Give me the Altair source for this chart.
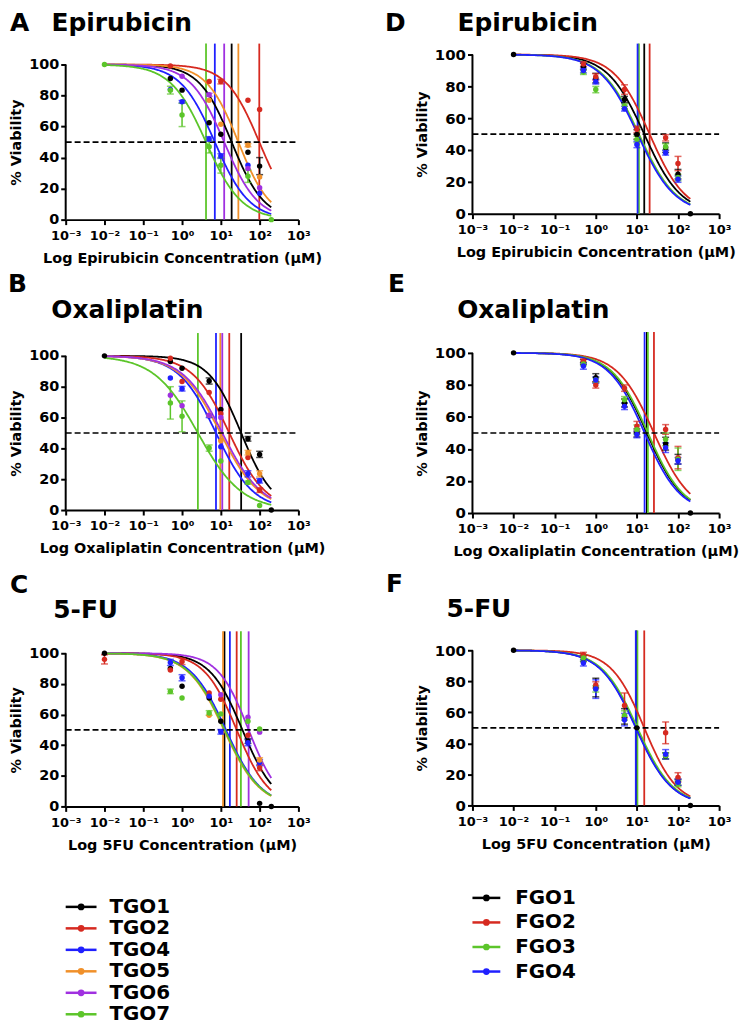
import altair as alt
import pandas as pd

FONT = "DejaVu Sans"

TGO_NAMES = ["TGO1", "TGO2", "TGO4", "TGO5", "TGO6", "TGO7"]
TGO_COLORS = ["#000000", "#d62a20", "#2020ff", "#f0902a", "#a030e0", "#5cc52a"]
FGO_NAMES = ["FGO1", "FGO2", "FGO3", "FGO4"]
FGO_COLORS = ["#000000", "#d62a20", "#5cc52a", "#2020ff"]

X_TICKS = [0.001, 0.01, 0.1, 1, 10, 100, 1000]
X_TICK_LABELS = ["10⁻³", "10⁻²", "10⁻¹", "10⁰", "10¹", "10²", "10³"]
Y_TICKS = [0, 20, 40, 60, 80, 100]
REF_LEVEL = 50

# ---- Panel A: Epirubicin (TGO) ----
A_IC50 = [19.0, 98.0, 7.0, 28.3, 12.2, 4.15]
A_FIT_IC50 = A_IC50
A_HILL = [1.04, 1.02, 0.98, 1.06, 1.0, 0.95]
A_POINTS = [
    ("TGO1", 0.5, 91, 0), ("TGO1", 1, 83.5, 0), ("TGO1", 5, 62.5, 0), ("TGO1", 10, 55, 0),
    ("TGO1", 50, 43.5, 0), ("TGO1", 100, 34.5, 5.5),
    ("TGO2", 0.5, 99, 0), ("TGO2", 5, 89, 0), ("TGO2", 10, 89, 1.5), ("TGO2", 50, 77, 0),
    ("TGO2", 100, 71, 0),
    ("TGO4", 0.5, 84, 0), ("TGO4", 1, 76, 0.8), ("TGO4", 5, 52, 1.5), ("TGO4", 10, 41, 1.5),
    ("TGO4", 50, 35, 0), ("TGO4", 100, 17, 0),
    ("TGO5", 5, 77, 0), ("TGO5", 10, 61.5, 0), ("TGO5", 50, 48, 1), ("TGO5", 100, 27.5, 0),
    ("TGO6", 1, 92.5, 0), ("TGO6", 5, 80.5, 1), ("TGO6", 50, 33, 0), ("TGO6", 100, 20.5, 0),
    ("TGO7", 0.01, 100, 0), ("TGO7", 0.5, 83.5, 2.5), ("TGO7", 1, 67.5, 7.5), ("TGO7", 5, 47, 4),
    ("TGO7", 10, 35, 5), ("TGO7", 50, 28, 4), ("TGO7", 200, 0, 0),
]

# ---- Panel B: Oxaliplatin (TGO) ----
B_IC50 = [33.4, 16.5, 7.5, 9.7, 10.9, 2.56]
B_FIT_IC50 = B_IC50
B_HILL = [1.04, 0.92, 0.9, 0.85, 0.85, 0.77]
B_POINTS = [
    ("TGO1", 0.01, 100, 0), ("TGO1", 0.5, 96.3, 0), ("TGO1", 1, 92, 0), ("TGO1", 5, 83.7, 2),
    ("TGO1", 10, 65.2, 0), ("TGO1", 50, 46.2, 1.5), ("TGO1", 100, 36.1, 2), ("TGO1", 200, 0, 0),
    ("TGO2", 0.5, 98.5, 0), ("TGO2", 1, 83.4, 0), ("TGO2", 5, 76.3, 0), ("TGO2", 10, 62.5, 0),
    ("TGO2", 50, 34, 0), ("TGO2", 100, 12.9, 1.5),
    ("TGO4", 0.5, 85.6, 0), ("TGO4", 1, 78.7, 1.5), ("TGO4", 5, 61, 1), ("TGO4", 10, 41, 0),
    ("TGO4", 50, 23.5, 2), ("TGO4", 100, 19, 1.5),
    ("TGO5", 5, 61.5, 0), ("TGO5", 10, 45, 0), ("TGO5", 50, 37.2, 1.5), ("TGO5", 100, 23.5, 2),
    ("TGO6", 0.5, 74.4, 0), ("TGO6", 1, 67.7, 0), ("TGO6", 5, 61.5, 0), ("TGO6", 10, 60, 0),
    ("TGO7", 0.5, 69.5, 10.5), ("TGO7", 1, 60.8, 10), ("TGO7", 5, 40.2, 2), ("TGO7", 10, 31.8, 0),
    ("TGO7", 50, 17.8, 1), ("TGO7", 100, 3, 0),
]

# ---- Panel C: 5-FU (TGO) ----
C_IC50 = [12.4, 25.6, 17.1, 11.4, 52.1, 32.9]
C_FIT_IC50 = [36.0, 25.6, 13.5, 12.0, 52.1, 12.5]
C_HILL = [1.03, 1.04, 0.95, 0.93, 1.1, 0.93]
C_POINTS = [
    ("TGO1", 0.01, 100, 0), ("TGO1", 0.5, 90, 0), ("TGO1", 1, 78.4, 0), ("TGO1", 5, 70.8, 0),
    ("TGO1", 10, 55.6, 0), ("TGO1", 50, 42.6, 1.5), ("TGO1", 100, 2, 0), ("TGO1", 200, 0, 0),
    ("TGO2", 0.01, 96, 3), ("TGO2", 0.5, 89, 0), ("TGO2", 1, 94.6, 2), ("TGO2", 5, 74, 0),
    ("TGO2", 10, 70, 0), ("TGO2", 50, 46.5, 0), ("TGO2", 100, 25.3, 2),
    ("TGO4", 0.5, 94, 2), ("TGO4", 1, 84, 2), ("TGO4", 5, 72, 0), ("TGO4", 10, 48.7, 1.5),
    ("TGO4", 50, 41.6, 2), ("TGO4", 100, 28.6, 2),
    ("TGO5", 5, 59.5, 0), ("TGO5", 100, 30.3, 1.5),
    ("TGO6", 10, 72.9, 0), ("TGO6", 50, 58.2, 0), ("TGO6", 100, 48.5, 0),
    ("TGO7", 0.5, 75.1, 1.5), ("TGO7", 1, 70.8, 0), ("TGO7", 5, 61, 1.5), ("TGO7", 10, 60.4, 0),
    ("TGO7", 50, 55.6, 0), ("TGO7", 100, 50.6, 0),
]

# ---- Panel D: Epirubicin (FGO) ----
D_IC50 = [15.1, 20.4, 11.2, 10.4]
D_FIT_IC50 = D_IC50
D_HILL = [0.97, 1.0, 0.96, 0.96]
D_POINTS = [
    ("FGO1", 0.01, 100, 0), ("FGO1", 0.5, 92.5, 2), ("FGO1", 1, 85.2, 3), ("FGO1", 5, 71.7, 2),
    ("FGO1", 10, 49.8, 3), ("FGO1", 50, 41.5, 3), ("FGO1", 100, 24.8, 3), ("FGO1", 200, 0, 0),
    ("FGO2", 0.5, 94, 1.5), ("FGO2", 1, 86, 2), ("FGO2", 5, 78, 3), ("FGO2", 10, 53, 2),
    ("FGO2", 50, 47.7, 2), ("FGO2", 100, 31.5, 4.5),
    ("FGO3", 0.5, 89, 1.5), ("FGO3", 1, 78, 2), ("FGO3", 5, 67.5, 1.5), ("FGO3", 10, 46.7, 2),
    ("FGO3", 50, 42, 2), ("FGO3", 100, 22.7, 2),
    ("FGO4", 0.5, 90, 1.5), ("FGO4", 1, 83, 1.5), ("FGO4", 5, 66, 1.5), ("FGO4", 10, 43.5, 2),
    ("FGO4", 50, 38.3, 1.5), ("FGO4", 100, 21.7, 2),
]

# ---- Panel E: Oxaliplatin (FGO) ----
E_IC50 = [17.5, 26.0, 18.5, 15.4]
E_FIT_IC50 = E_IC50
E_HILL = [1.0, 0.98, 1.0, 1.0]
E_POINTS = [
    ("FGO1", 0.01, 100, 0), ("FGO1", 0.5, 94.4, 1.5), ("FGO1", 1, 84.5, 2.5), ("FGO1", 5, 68.7, 2.5),
    ("FGO1", 10, 50, 2.5), ("FGO1", 50, 43.3, 4), ("FGO1", 100, 33.6, 3), ("FGO1", 200, 0, 0),
    ("FGO2", 0.5, 95, 1), ("FGO2", 1, 80, 2), ("FGO2", 5, 78, 2), ("FGO2", 10, 54.2, 3),
    ("FGO2", 50, 52.2, 3), ("FGO2", 100, 34.6, 7),
    ("FGO3", 0.5, 93, 1), ("FGO3", 1, 83, 1.5), ("FGO3", 5, 70.7, 2), ("FGO3", 10, 52, 3),
    ("FGO3", 50, 46, 4), ("FGO3", 100, 33.6, 7),
    ("FGO4", 0.5, 91.8, 2), ("FGO4", 1, 83, 2), ("FGO4", 5, 66.6, 2), ("FGO4", 10, 49, 2),
    ("FGO4", 50, 40.8, 3), ("FGO4", 100, 32.6, 2),
]

# ---- Panel F: 5-FU (FGO) ----
F_IC50 = [9.7, 15.1, 10.3, 9.4]
F_FIT_IC50 = F_IC50
F_HILL = [1.0, 1.08, 1.0, 1.0]
F_POINTS = [
    ("FGO1", 0.01, 100, 0), ("FGO1", 0.5, 94.7, 2), ("FGO1", 1, 76, 6), ("FGO1", 5, 57.4, 5),
    ("FGO1", 10, 50, 0), ("FGO1", 50, 31.9, 2), ("FGO1", 100, 14.9, 2), ("FGO1", 200, 0, 0),
    ("FGO2", 0.5, 97.2, 1.5), ("FGO2", 1, 77.7, 2), ("FGO2", 5, 64.5, 8), ("FGO2", 50, 46.8, 7),
    ("FGO2", 100, 18.1, 3),
    ("FGO3", 0.5, 95, 2), ("FGO3", 1, 75.1, 2), ("FGO3", 5, 58, 3), ("FGO3", 50, 32, 2),
    ("FGO3", 100, 14, 2),
    ("FGO4", 0.5, 91.9, 2), ("FGO4", 1, 75, 6), ("FGO4", 5, 55.3, 4), ("FGO4", 50, 33, 3),
    ("FGO4", 100, 15, 2),
]

NB = "\u00a0"
ZW = "\u200b"

# layout (sizes, offsets) kept apart from the data
LAYOUT = {
    "A": dict(w=234, h=177, ymax=113.5, vtop=113.5, title=["A" + NB * 2 + "\u2009Epirubicin"],
              tdx=-56, toff=-18, ty=99, ylab=14.5),
    "B": dict(w=234, h=202, ymax=130.3, vtop=114.8, title=["B", ZW + NB * 5 + "Oxaliplatin"],
              tdx=-58, toff=-38.5, ty=124.5, ylab=14.5),
    "C": dict(w=234, h=205, ymax=133.1, vtop=114.3, title=["C", ZW + NB * 5 + "5-FU"],
              tdx=-56, toff=-46, ty=128, ylab=14.5),
    "D": dict(w=248, h=171, ymax=106.9, vtop=106.9, title=["D" + NB * 6 + "Epirubicin"],
              tdx=-88, toff=-18, ty=91, ylab=15),
    "E": dict(w=248, h=205, ymax=127.3, vtop=113.0, title=["E", ZW + NB * 8 + "Oxaliplatin"],
              tdx=-85, toff=-38.5, ty=124.5, ylab=15),
    "F": dict(w=248, h=204, ymax=130.8, vtop=112.8, title=["F", ZW + NB * 7 + "5-FU"],
              tdx=-87, toff=-45, ty=126, ylab=15),
}

label_expr = "[" + ",".join("'" + s + "'" for s in X_TICK_LABELS) + "][round(log(datum.value)/LN10)+3]"


def make_panel(key, names, colors, ic50, fit_ic50, hill, points, xtitle):
    lay = LAYOUT[key]
    color = alt.Color("name:N", scale=alt.Scale(domain=names, range=colors), legend=None)
    xs = alt.Scale(type="log", domain=[1e-3, 1e3])
    ys = alt.Scale(domain=[0, lay["ymax"]], nice=False)
    xaxis = alt.Axis(values=X_TICKS, labelExpr=label_expr, grid=False, domainColor="black",
                     domainWidth=2, tickColor="black", tickWidth=2, tickSize=5,
                     labelFont=FONT, labelFontSize=13, labelFontWeight="bold", labelColor="black",
                     labelPadding=5, labelFlush=False, labelOverlap=False,
                     title=xtitle, titleFont=FONT, titleFontSize=14.5, titleFontWeight="bold",
                     titleColor="black", titlePadding=9)
    yaxis = alt.Axis(values=Y_TICKS, grid=False, domain=False, tickColor="black", tickWidth=2,
                     tickSize=5, labelFont=FONT, labelFontSize=lay["ylab"], labelFontWeight="bold",
                     labelColor="black", labelPadding=2, labelFlush=False,
                     title="% Viability", titleFont=FONT, titleFontSize=14.5,
                     titleFontWeight="bold", titleColor="black", titlePadding=5, titleY=lay["ty"])

    def X(f):
        return alt.X(f, type="quantitative", scale=xs, axis=xaxis)

    def Y(f):
        return alt.Y(f, type="quantitative", scale=ys, axis=yaxis)

    params = pd.DataFrame({"name": names, "ic": ic50, "fit": fit_ic50, "h": hill})
    params["vtop"] = lay["vtop"]
    params["zero"] = 0.0
    pts = pd.DataFrame(points, columns=["name", "dose", "v", "err"])
    errs = pts[pts["err"] > 0].copy()
    errs["lo"] = errs["v"] - errs["err"]
    errs["hi"] = errs["v"] + errs["err"]

    vlines = alt.Chart(params).mark_rule(strokeWidth=1.8).encode(
        x=X("ic"), y=Y("zero"), y2="vtop", color=color)
    curves = (alt.Chart(params)
              .transform_calculate(lx="sequence(-2, 2.3011, 0.02)")
              .transform_flatten(["lx"])
              .transform_calculate(cx="pow(10, datum.lx)",
                                   cy="100/(1+pow(10,(datum.lx - log(datum.fit)/LN10)*datum.h))")
              .mark_line(strokeWidth=1.8)
              .encode(x=X("cx"), y=Y("cy"), color=color, order="cx:Q"))
    ref = pd.DataFrame({"x1": [X_TICKS[0]], "x2": [X_TICKS[-1]], "y": [REF_LEVEL]})
    dashed = alt.Chart(ref).mark_rule(strokeWidth=1.6, strokeDash=[6, 3], color="black").encode(
        x=X("x1"), x2="x2", y=Y("y"))
    yline_df = pd.DataFrame({"x": [X_TICKS[0]], "y1": [Y_TICKS[0]], "y2": [Y_TICKS[-1]]})
    yline = alt.Chart(yline_df).mark_rule(strokeWidth=2, color="black").encode(
        x=X("x"), y=Y("y1"), y2="y2")
    ebar = alt.Chart(errs).mark_rule(strokeWidth=1.5).encode(
        x=X("dose"), y=Y("lo"), y2="hi", color=color)
    caps = (alt.Chart(errs).transform_fold(["lo", "hi"], as_=["k", "cap"])
            .mark_tick(orient="horizontal", size=7, thickness=1.5)
            .encode(x=X("dose"), y=Y("cap:Q"), color=color))
    dots = alt.Chart(pts).mark_circle(size=30, opacity=1).encode(
        x=X("dose"), y=Y("v"), color=color)

    return alt.layer(vlines, curves, dashed, ebar, caps, dots, yline).properties(
        width=lay["w"], height=lay["h"],
        title=alt.TitleParams(text=lay["title"], anchor="start", frame="group", dx=lay["tdx"],
                              offset=lay["toff"], baseline="bottom", align="left",
                              font=FONT, fontSize=25, fontWeight="bold", color="black",
                              lineHeight=26))


def make_legend(names, colors, w, h, pad, dx):
    df = pd.DataFrame({"name": names})
    color = alt.Color("name:N", scale=alt.Scale(domain=names, range=colors), legend=None)
    xs = alt.Scale(domain=[0, 1])
    y = alt.Y("name:N", sort=names, scale=alt.Scale(type="point", domain=names, padding=pad),
              axis=None)
    base = alt.Chart(df)
    line = base.mark_rule(strokeWidth=2.5).encode(
        x=alt.XDatum(0, type="quantitative", scale=xs, axis=None), x2=alt.X2Datum(1),
        y=y, color=color)
    dot = base.mark_circle(size=45, opacity=1).encode(
        x=alt.XDatum(0.5, type="quantitative", scale=xs, axis=None), y=y, color=color)
    txt = base.mark_text(align="left", baseline="middle", dx=dx, font=FONT, fontSize=20,
                         fontWeight="bold", color="black").encode(
        x=alt.XDatum(1, type="quantitative", scale=xs, axis=None), y=y, text="name:N")
    return alt.layer(line, dot, txt).properties(width=w, height=h)


pA = make_panel("A", TGO_NAMES, TGO_COLORS, A_IC50, A_FIT_IC50, A_HILL, A_POINTS,
                "Log Epirubicin Concentration (μM)")
pB = make_panel("B", TGO_NAMES, TGO_COLORS, B_IC50, B_FIT_IC50, B_HILL, B_POINTS,
                "Log Oxaliplatin Concentration (μM)")
pC = make_panel("C", TGO_NAMES, TGO_COLORS, C_IC50, C_FIT_IC50, C_HILL, C_POINTS,
                "Log 5FU Concentration (μM)")
pD = make_panel("D", FGO_NAMES, FGO_COLORS, D_IC50, D_FIT_IC50, D_HILL, D_POINTS,
                "Log Epirubicin Concentration (μM)")
pE = make_panel("E", FGO_NAMES, FGO_COLORS, E_IC50, E_FIT_IC50, E_HILL, E_POINTS,
                "Log Oxaliplatin Concentration (μM)")
pF = make_panel("F", FGO_NAMES, FGO_COLORS, F_IC50, F_FIT_IC50, F_HILL, F_POINTS,
                "Log 5FU Concentration (μM)")

legL = make_legend(TGO_NAMES, TGO_COLORS, 31, 130, 0.51, 13)
legR = make_legend(FGO_NAMES, FGO_COLORS, 28, 78, 0.08, 15)

chart = (alt.concat(pA, pD, pB, pE, pC, pF, legL, legR, columns=2,
                    spacing=alt.RowColnumber(row=90, column=175), bounds="flush", align="each")
         .resolve_scale(color="independent")
         .properties(padding=0, background="white")
         .configure_view(stroke=None))

chart.save("out.html", embed_options={"renderer": "svg", "actions": False})
